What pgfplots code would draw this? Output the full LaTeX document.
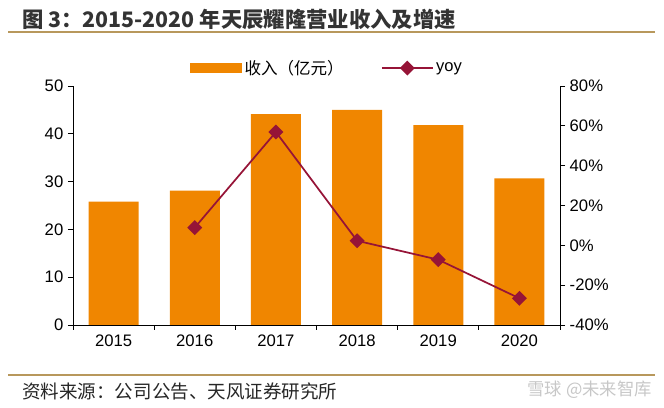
\documentclass[border=0pt]{standalone}
\usepackage{pgfplots}
\pgfplotsset{compat=1.18}
\usepackage{fontspec}
\setmainfont{Liberation Sans}
\newfontfamily\cjk{Noto Sans CJK SC}
\definecolor{barorange}{RGB}{240,134,0}
\definecolor{yoyred}{RGB}{150,20,55}
\definecolor{gold}{RGB}{184,152,92}
\pgfplotsset{
  yoy legend/.style={legend image code/.code={%
    \draw[mark repeat=2,mark phase=2,##1] plot coordinates {(0pt,0pt) (19pt,0pt) (38pt,0pt)};}},
  bar legend/.style={legend image code/.code={%
    \fill[barorange] (0pt,-3.6pt) rectangle (39pt,3.6pt);}},
}
\begin{document}
\begin{tikzpicture}[x=0.75pt,y=0.75pt]
\path[use as bounding box] (0,0) rectangle (664,407);
% header and footer
\node[anchor=west,inner sep=0pt,font=\cjk\bfseries\fontsize{16}{18}\selectfont,text=black!80] at (22,388) {图 3：2015-2020 年天辰耀隆营业收入及增速};
\draw[gold,line width=1.5pt] (8,375) -- (655,375);
\draw[gold,line width=1.5pt] (8,32) -- (655,32);
\node[anchor=west,inner sep=0pt,font=\cjk\fontsize{13.9}{16}\selectfont,text=black!85] at (22,16) {资料来源：公司公告、天风证券研究所};
\node[anchor=east,inner sep=0pt,font=\cjk\fontsize{13}{15}\selectfont,text=black!22] at (652,17) {雪球 @未来智库};

\pgfplotsset{
  every axis/.append style={
    at={(54.75pt,61.5pt)}, anchor=south west, scale only axis,
    width=365.25pt, height=179.25pt,
    xmin=-0.5, xmax=5.5,
    tick align=outside,
    tick style={black, line width=0.6pt},
    axis line style={black, line width=0.6pt},
    ticklabel style={font=\fontsize{12.5}{14}\selectfont},
    /pgf/number format/assume math mode=true,
  }
}

\begin{axis}[
  ymin=0, ymax=50, ytick={0,10,...,50},
  axis x line*=bottom, axis y line*=left,
  xtick={0,...,5}, xticklabels={2015,2016,2017,2018,2019,2020},
  major x tick style={draw=none},
  minor xtick={-0.5,0.5,...,5.5},
  minor tick length=3.75pt, major tick length=3.75pt,
  legend columns=2,
  legend style={at={(0.522,1.075)}, anchor=center, draw=none, fill=none,
    font=\cjk\fontsize{12.4}{14}\selectfont,
    /tikz/every even column/.append style={column sep=26pt}},
]
\addplot[ybar, bar width=37.5pt, fill=barorange, draw=none, bar legend]
  coordinates {(0,25.8) (1,28.1) (2,44.1) (3,45.0) (4,41.8) (5,30.7)};
\addlegendentry{收入（亿元）}
\addlegendimage{yoyred, line width=1.3pt, mark=square*, mark size=3.3pt,
  mark options={rotate=45}, yoy legend}
\addlegendentry{\rmfamily yoy}
\end{axis}

\begin{axis}[
  ymin=-40, ymax=80, ytick={-40,-20,...,80},
  axis y line*=right, axis x line=none,
  major tick length=3.75pt,
  yticklabel={\pgfmathprintnumber{\tick}\%},
]
\addplot[yoyred, line width=1.3pt, mark=square*, mark size=3.3pt, mark options={rotate=45}]
  coordinates {(1,8.9) (2,56.9) (3,2.3) (4,-7.2) (5,-26.6)};
\end{axis}
\end{tikzpicture}
\end{document}
